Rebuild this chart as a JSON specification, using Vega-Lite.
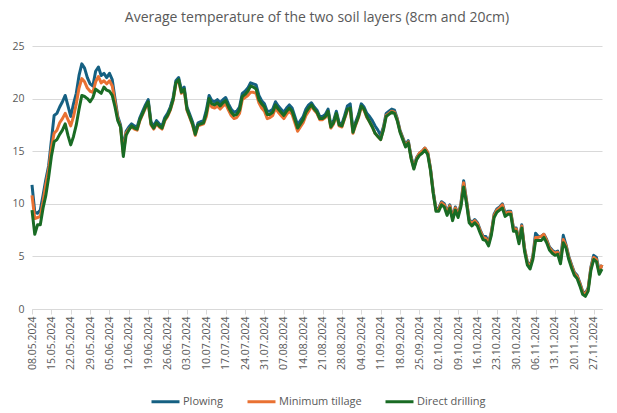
{
  "$schema": "https://vega.github.io/schema/vega-lite/v6.json",
  "autosize": "none",
  "width": 570,
  "height": 263,
  "padding": {"left": 32, "top": 46, "right": 15, "bottom": 104},
  "background": "white",
  "title": {
    "text": "Average temperature of the two soil layers (8cm and 20cm)",
    "font": "Open Sans",
    "fontSize": 14,
    "fontWeight": "normal",
    "color": "#595959",
    "offset": 16
  },
  "data": {
    "format": {"parse": {"date": "utc:'%Y-%m-%d'"}},
    "values": [
      {"date": "2024-05-08", "Plowing": 11.8, "Minimum tillage": 10.8, "Direct drilling": 9.4},
      {"date": "2024-05-09", "Plowing": 9.2, "Minimum tillage": 8.6, "Direct drilling": 7.1},
      {"date": "2024-05-10", "Plowing": 9.1, "Minimum tillage": 8.7, "Direct drilling": 8.0},
      {"date": "2024-05-11", "Plowing": 9.4, "Minimum tillage": 8.8, "Direct drilling": 8.0},
      {"date": "2024-05-12", "Plowing": 10.8, "Minimum tillage": 10.2, "Direct drilling": 9.6},
      {"date": "2024-05-13", "Plowing": 12.3, "Minimum tillage": 11.8, "Direct drilling": 10.8},
      {"date": "2024-05-14", "Plowing": 13.6, "Minimum tillage": 13.2, "Direct drilling": 12.5},
      {"date": "2024-05-15", "Plowing": 16.0, "Minimum tillage": 15.3, "Direct drilling": 14.5},
      {"date": "2024-05-16", "Plowing": 18.4, "Minimum tillage": 16.7, "Direct drilling": 15.9},
      {"date": "2024-05-17", "Plowing": 18.6, "Minimum tillage": 17.0, "Direct drilling": 16.1},
      {"date": "2024-05-18", "Plowing": 19.2, "Minimum tillage": 17.7, "Direct drilling": 16.6},
      {"date": "2024-05-19", "Plowing": 19.7, "Minimum tillage": 18.1, "Direct drilling": 17.0},
      {"date": "2024-05-20", "Plowing": 20.3, "Minimum tillage": 18.6, "Direct drilling": 17.6},
      {"date": "2024-05-21", "Plowing": 19.3, "Minimum tillage": 18.0, "Direct drilling": 16.5},
      {"date": "2024-05-22", "Plowing": 18.3, "Minimum tillage": 17.4, "Direct drilling": 15.6},
      {"date": "2024-05-23", "Plowing": 19.5, "Minimum tillage": 18.3, "Direct drilling": 16.4},
      {"date": "2024-05-24", "Plowing": 20.5, "Minimum tillage": 19.5, "Direct drilling": 17.5},
      {"date": "2024-05-25", "Plowing": 22.2, "Minimum tillage": 21.0, "Direct drilling": 19.0},
      {"date": "2024-05-26", "Plowing": 23.3, "Minimum tillage": 21.9, "Direct drilling": 20.3},
      {"date": "2024-05-27", "Plowing": 22.9, "Minimum tillage": 21.6, "Direct drilling": 20.2},
      {"date": "2024-05-28", "Plowing": 22.0, "Minimum tillage": 21.0, "Direct drilling": 20.0},
      {"date": "2024-05-29", "Plowing": 21.4, "Minimum tillage": 20.7, "Direct drilling": 19.7},
      {"date": "2024-05-30", "Plowing": 21.2, "Minimum tillage": 20.6, "Direct drilling": 20.1},
      {"date": "2024-05-31", "Plowing": 22.6, "Minimum tillage": 21.6, "Direct drilling": 20.9},
      {"date": "2024-06-01", "Plowing": 23.0, "Minimum tillage": 22.1, "Direct drilling": 20.7},
      {"date": "2024-06-02", "Plowing": 22.2, "Minimum tillage": 21.5, "Direct drilling": 20.5},
      {"date": "2024-06-03", "Plowing": 22.4, "Minimum tillage": 21.7, "Direct drilling": 21.1},
      {"date": "2024-06-04", "Plowing": 22.0, "Minimum tillage": 21.4, "Direct drilling": 20.8},
      {"date": "2024-06-05", "Plowing": 22.4, "Minimum tillage": 21.7, "Direct drilling": 20.7},
      {"date": "2024-06-06", "Plowing": 21.8, "Minimum tillage": 21.2, "Direct drilling": 20.3},
      {"date": "2024-06-07", "Plowing": 20.0, "Minimum tillage": 19.7, "Direct drilling": 19.2},
      {"date": "2024-06-08", "Plowing": 18.3, "Minimum tillage": 18.1, "Direct drilling": 17.9},
      {"date": "2024-06-09", "Plowing": 17.5, "Minimum tillage": 17.3, "Direct drilling": 17.3},
      {"date": "2024-06-10", "Plowing": 15.2, "Minimum tillage": 14.8, "Direct drilling": 14.5},
      {"date": "2024-06-11", "Plowing": 16.9, "Minimum tillage": 16.7, "Direct drilling": 16.5},
      {"date": "2024-06-12", "Plowing": 17.3, "Minimum tillage": 17.1, "Direct drilling": 17.0},
      {"date": "2024-06-13", "Plowing": 17.6, "Minimum tillage": 17.3, "Direct drilling": 17.4},
      {"date": "2024-06-14", "Plowing": 17.4, "Minimum tillage": 17.1, "Direct drilling": 17.2},
      {"date": "2024-06-15", "Plowing": 17.3, "Minimum tillage": 17.0, "Direct drilling": 17.1},
      {"date": "2024-06-16", "Plowing": 18.2, "Minimum tillage": 17.9, "Direct drilling": 18.0},
      {"date": "2024-06-17", "Plowing": 18.8, "Minimum tillage": 18.5, "Direct drilling": 18.6},
      {"date": "2024-06-18", "Plowing": 19.4, "Minimum tillage": 19.1, "Direct drilling": 19.2},
      {"date": "2024-06-19", "Plowing": 19.9, "Minimum tillage": 19.6, "Direct drilling": 19.7},
      {"date": "2024-06-20", "Plowing": 17.8, "Minimum tillage": 17.5, "Direct drilling": 17.6},
      {"date": "2024-06-21", "Plowing": 17.4, "Minimum tillage": 17.1, "Direct drilling": 17.2},
      {"date": "2024-06-22", "Plowing": 17.9, "Minimum tillage": 17.6, "Direct drilling": 17.7},
      {"date": "2024-06-23", "Plowing": 17.6, "Minimum tillage": 17.3, "Direct drilling": 17.4},
      {"date": "2024-06-24", "Plowing": 17.4, "Minimum tillage": 17.1, "Direct drilling": 17.2},
      {"date": "2024-06-25", "Plowing": 18.2, "Minimum tillage": 17.9, "Direct drilling": 18.0},
      {"date": "2024-06-26", "Plowing": 18.6, "Minimum tillage": 18.3, "Direct drilling": 18.4},
      {"date": "2024-06-27", "Plowing": 19.2, "Minimum tillage": 18.9, "Direct drilling": 19.0},
      {"date": "2024-06-28", "Plowing": 20.1, "Minimum tillage": 19.8, "Direct drilling": 19.9},
      {"date": "2024-06-29", "Plowing": 21.7, "Minimum tillage": 21.4, "Direct drilling": 21.5},
      {"date": "2024-06-30", "Plowing": 22.0, "Minimum tillage": 21.7, "Direct drilling": 21.8},
      {"date": "2024-07-01", "Plowing": 20.8, "Minimum tillage": 20.5, "Direct drilling": 20.6},
      {"date": "2024-07-02", "Plowing": 21.1, "Minimum tillage": 20.8, "Direct drilling": 20.9},
      {"date": "2024-07-03", "Plowing": 19.2, "Minimum tillage": 18.9, "Direct drilling": 19.0},
      {"date": "2024-07-04", "Plowing": 18.5, "Minimum tillage": 18.2, "Direct drilling": 18.3},
      {"date": "2024-07-05", "Plowing": 17.8, "Minimum tillage": 17.5, "Direct drilling": 17.6},
      {"date": "2024-07-06", "Plowing": 16.8, "Minimum tillage": 16.5, "Direct drilling": 16.6},
      {"date": "2024-07-07", "Plowing": 17.7, "Minimum tillage": 17.4, "Direct drilling": 17.5},
      {"date": "2024-07-08", "Plowing": 17.8, "Minimum tillage": 17.5, "Direct drilling": 17.6},
      {"date": "2024-07-09", "Plowing": 17.9, "Minimum tillage": 17.6, "Direct drilling": 17.7},
      {"date": "2024-07-10", "Plowing": 18.9, "Minimum tillage": 18.3, "Direct drilling": 18.6},
      {"date": "2024-07-11", "Plowing": 20.3, "Minimum tillage": 19.7, "Direct drilling": 20.0},
      {"date": "2024-07-12", "Plowing": 19.8, "Minimum tillage": 19.2, "Direct drilling": 19.5},
      {"date": "2024-07-13", "Plowing": 19.7, "Minimum tillage": 19.1, "Direct drilling": 19.4},
      {"date": "2024-07-14", "Plowing": 19.9, "Minimum tillage": 19.3, "Direct drilling": 19.6},
      {"date": "2024-07-15", "Plowing": 19.6, "Minimum tillage": 19.0, "Direct drilling": 19.3},
      {"date": "2024-07-16", "Plowing": 19.9, "Minimum tillage": 19.3, "Direct drilling": 19.6},
      {"date": "2024-07-17", "Plowing": 20.1, "Minimum tillage": 19.5, "Direct drilling": 19.8},
      {"date": "2024-07-18", "Plowing": 19.5, "Minimum tillage": 18.9, "Direct drilling": 19.2},
      {"date": "2024-07-19", "Plowing": 19.0, "Minimum tillage": 18.4, "Direct drilling": 18.7},
      {"date": "2024-07-20", "Plowing": 18.7, "Minimum tillage": 18.1, "Direct drilling": 18.4},
      {"date": "2024-07-21", "Plowing": 18.8, "Minimum tillage": 18.2, "Direct drilling": 18.5},
      {"date": "2024-07-22", "Plowing": 19.2, "Minimum tillage": 18.6, "Direct drilling": 18.9},
      {"date": "2024-07-23", "Plowing": 20.5, "Minimum tillage": 19.9, "Direct drilling": 20.2},
      {"date": "2024-07-24", "Plowing": 20.7, "Minimum tillage": 20.1, "Direct drilling": 20.4},
      {"date": "2024-07-25", "Plowing": 21.0, "Minimum tillage": 20.3, "Direct drilling": 20.7},
      {"date": "2024-07-26", "Plowing": 21.5, "Minimum tillage": 20.6, "Direct drilling": 21.2},
      {"date": "2024-07-27", "Plowing": 21.4, "Minimum tillage": 20.6, "Direct drilling": 21.1},
      {"date": "2024-07-28", "Plowing": 21.3, "Minimum tillage": 20.5, "Direct drilling": 20.9},
      {"date": "2024-07-29", "Plowing": 20.3, "Minimum tillage": 19.6, "Direct drilling": 19.9},
      {"date": "2024-07-30", "Plowing": 19.8, "Minimum tillage": 19.1, "Direct drilling": 19.5},
      {"date": "2024-07-31", "Plowing": 19.5, "Minimum tillage": 18.8, "Direct drilling": 19.2},
      {"date": "2024-08-01", "Plowing": 18.8, "Minimum tillage": 18.1, "Direct drilling": 18.5},
      {"date": "2024-08-02", "Plowing": 18.8, "Minimum tillage": 18.2, "Direct drilling": 18.5},
      {"date": "2024-08-03", "Plowing": 19.0, "Minimum tillage": 18.4, "Direct drilling": 18.7},
      {"date": "2024-08-04", "Plowing": 19.7, "Minimum tillage": 19.1, "Direct drilling": 19.4},
      {"date": "2024-08-05", "Plowing": 19.3, "Minimum tillage": 18.7, "Direct drilling": 19.0},
      {"date": "2024-08-06", "Plowing": 19.0, "Minimum tillage": 18.4, "Direct drilling": 18.7},
      {"date": "2024-08-07", "Plowing": 18.7, "Minimum tillage": 18.1, "Direct drilling": 18.4},
      {"date": "2024-08-08", "Plowing": 19.1, "Minimum tillage": 18.5, "Direct drilling": 18.8},
      {"date": "2024-08-09", "Plowing": 19.4, "Minimum tillage": 18.8, "Direct drilling": 19.1},
      {"date": "2024-08-10", "Plowing": 19.1, "Minimum tillage": 18.5, "Direct drilling": 18.8},
      {"date": "2024-08-11", "Plowing": 18.3, "Minimum tillage": 17.7, "Direct drilling": 18.0},
      {"date": "2024-08-12", "Plowing": 17.5, "Minimum tillage": 16.9, "Direct drilling": 17.2},
      {"date": "2024-08-13", "Plowing": 17.9, "Minimum tillage": 17.3, "Direct drilling": 17.6},
      {"date": "2024-08-14", "Plowing": 18.3, "Minimum tillage": 17.7, "Direct drilling": 18.0},
      {"date": "2024-08-15", "Plowing": 19.0, "Minimum tillage": 18.4, "Direct drilling": 18.7},
      {"date": "2024-08-16", "Plowing": 19.4, "Minimum tillage": 18.8, "Direct drilling": 19.1},
      {"date": "2024-08-17", "Plowing": 19.6, "Minimum tillage": 19.3, "Direct drilling": 19.4},
      {"date": "2024-08-18", "Plowing": 19.2, "Minimum tillage": 18.9, "Direct drilling": 19.0},
      {"date": "2024-08-19", "Plowing": 18.9, "Minimum tillage": 18.6, "Direct drilling": 18.7},
      {"date": "2024-08-20", "Plowing": 18.3, "Minimum tillage": 18.0, "Direct drilling": 18.1},
      {"date": "2024-08-21", "Plowing": 18.3, "Minimum tillage": 18.0, "Direct drilling": 18.1},
      {"date": "2024-08-22", "Plowing": 18.5, "Minimum tillage": 18.2, "Direct drilling": 18.3},
      {"date": "2024-08-23", "Plowing": 19.0, "Minimum tillage": 18.7, "Direct drilling": 18.8},
      {"date": "2024-08-24", "Plowing": 17.5, "Minimum tillage": 17.2, "Direct drilling": 17.3},
      {"date": "2024-08-25", "Plowing": 17.9, "Minimum tillage": 17.6, "Direct drilling": 17.7},
      {"date": "2024-08-26", "Plowing": 18.8, "Minimum tillage": 18.5, "Direct drilling": 18.6},
      {"date": "2024-08-27", "Plowing": 17.7, "Minimum tillage": 17.4, "Direct drilling": 17.5},
      {"date": "2024-08-28", "Plowing": 17.6, "Minimum tillage": 17.3, "Direct drilling": 17.4},
      {"date": "2024-08-29", "Plowing": 18.4, "Minimum tillage": 18.1, "Direct drilling": 18.2},
      {"date": "2024-08-30", "Plowing": 19.3, "Minimum tillage": 18.9, "Direct drilling": 19.0},
      {"date": "2024-08-31", "Plowing": 19.5, "Minimum tillage": 19.0, "Direct drilling": 19.1},
      {"date": "2024-09-01", "Plowing": 17.0, "Minimum tillage": 16.7, "Direct drilling": 16.8},
      {"date": "2024-09-02", "Plowing": 17.8, "Minimum tillage": 17.5, "Direct drilling": 17.6},
      {"date": "2024-09-03", "Plowing": 18.5, "Minimum tillage": 18.2, "Direct drilling": 18.3},
      {"date": "2024-09-04", "Plowing": 19.5, "Minimum tillage": 19.2, "Direct drilling": 19.3},
      {"date": "2024-09-05", "Plowing": 19.2, "Minimum tillage": 18.9, "Direct drilling": 19.0},
      {"date": "2024-09-06", "Plowing": 18.6, "Minimum tillage": 18.2, "Direct drilling": 18.3},
      {"date": "2024-09-07", "Plowing": 18.3, "Minimum tillage": 17.8, "Direct drilling": 17.8},
      {"date": "2024-09-08", "Plowing": 17.9, "Minimum tillage": 17.3, "Direct drilling": 17.3},
      {"date": "2024-09-09", "Plowing": 17.4, "Minimum tillage": 16.7, "Direct drilling": 16.7},
      {"date": "2024-09-10", "Plowing": 17.0, "Minimum tillage": 16.4, "Direct drilling": 16.4},
      {"date": "2024-09-11", "Plowing": 16.5, "Minimum tillage": 16.1, "Direct drilling": 16.1},
      {"date": "2024-09-12", "Plowing": 17.3, "Minimum tillage": 17.1, "Direct drilling": 17.0},
      {"date": "2024-09-13", "Plowing": 18.6, "Minimum tillage": 18.4, "Direct drilling": 18.3},
      {"date": "2024-09-14", "Plowing": 18.8, "Minimum tillage": 18.6, "Direct drilling": 18.5},
      {"date": "2024-09-15", "Plowing": 19.0, "Minimum tillage": 18.8, "Direct drilling": 18.7},
      {"date": "2024-09-16", "Plowing": 18.9, "Minimum tillage": 18.7, "Direct drilling": 18.6},
      {"date": "2024-09-17", "Plowing": 18.1, "Minimum tillage": 18.0, "Direct drilling": 17.9},
      {"date": "2024-09-18", "Plowing": 17.0, "Minimum tillage": 16.9, "Direct drilling": 16.8},
      {"date": "2024-09-19", "Plowing": 16.3, "Minimum tillage": 16.2, "Direct drilling": 16.1},
      {"date": "2024-09-20", "Plowing": 15.6, "Minimum tillage": 15.5, "Direct drilling": 15.4},
      {"date": "2024-09-21", "Plowing": 16.0, "Minimum tillage": 15.9, "Direct drilling": 15.8},
      {"date": "2024-09-22", "Plowing": 14.5, "Minimum tillage": 14.4, "Direct drilling": 14.3},
      {"date": "2024-09-23", "Plowing": 13.5, "Minimum tillage": 13.4, "Direct drilling": 13.3},
      {"date": "2024-09-24", "Plowing": 14.4, "Minimum tillage": 14.3, "Direct drilling": 14.2},
      {"date": "2024-09-25", "Plowing": 14.8, "Minimum tillage": 14.8, "Direct drilling": 14.6},
      {"date": "2024-09-26", "Plowing": 15.0, "Minimum tillage": 15.0, "Direct drilling": 14.8},
      {"date": "2024-09-27", "Plowing": 15.3, "Minimum tillage": 15.3, "Direct drilling": 15.1},
      {"date": "2024-09-28", "Plowing": 14.9, "Minimum tillage": 14.9, "Direct drilling": 14.7},
      {"date": "2024-09-29", "Plowing": 13.4, "Minimum tillage": 13.3, "Direct drilling": 13.2},
      {"date": "2024-09-30", "Plowing": 11.2, "Minimum tillage": 11.1, "Direct drilling": 11.0},
      {"date": "2024-10-01", "Plowing": 9.5, "Minimum tillage": 9.4, "Direct drilling": 9.3},
      {"date": "2024-10-02", "Plowing": 9.6, "Minimum tillage": 9.5, "Direct drilling": 9.3},
      {"date": "2024-10-03", "Plowing": 10.2, "Minimum tillage": 10.1, "Direct drilling": 9.9},
      {"date": "2024-10-04", "Plowing": 10.0, "Minimum tillage": 9.9, "Direct drilling": 9.7},
      {"date": "2024-10-05", "Plowing": 9.2, "Minimum tillage": 9.1, "Direct drilling": 8.9},
      {"date": "2024-10-06", "Plowing": 9.9, "Minimum tillage": 9.8, "Direct drilling": 9.6},
      {"date": "2024-10-07", "Plowing": 8.7, "Minimum tillage": 8.6, "Direct drilling": 8.4},
      {"date": "2024-10-08", "Plowing": 9.7, "Minimum tillage": 9.6, "Direct drilling": 9.4},
      {"date": "2024-10-09", "Plowing": 9.0, "Minimum tillage": 8.9, "Direct drilling": 8.7},
      {"date": "2024-10-10", "Plowing": 10.0, "Minimum tillage": 9.9, "Direct drilling": 9.7},
      {"date": "2024-10-11", "Plowing": 12.2, "Minimum tillage": 12.0, "Direct drilling": 11.6},
      {"date": "2024-10-12", "Plowing": 10.4, "Minimum tillage": 10.3, "Direct drilling": 10.1},
      {"date": "2024-10-13", "Plowing": 8.5, "Minimum tillage": 8.4, "Direct drilling": 8.2},
      {"date": "2024-10-14", "Plowing": 8.2, "Minimum tillage": 8.1, "Direct drilling": 7.9},
      {"date": "2024-10-15", "Plowing": 8.5, "Minimum tillage": 8.4, "Direct drilling": 8.2},
      {"date": "2024-10-16", "Plowing": 8.2, "Minimum tillage": 8.1, "Direct drilling": 7.9},
      {"date": "2024-10-17", "Plowing": 7.5, "Minimum tillage": 7.4, "Direct drilling": 7.2},
      {"date": "2024-10-18", "Plowing": 6.9, "Minimum tillage": 6.8, "Direct drilling": 6.6},
      {"date": "2024-10-19", "Plowing": 6.9, "Minimum tillage": 6.7, "Direct drilling": 6.5},
      {"date": "2024-10-20", "Plowing": 6.3, "Minimum tillage": 6.2, "Direct drilling": 6.0},
      {"date": "2024-10-21", "Plowing": 7.3, "Minimum tillage": 7.2, "Direct drilling": 7.0},
      {"date": "2024-10-22", "Plowing": 9.0, "Minimum tillage": 8.9, "Direct drilling": 8.7},
      {"date": "2024-10-23", "Plowing": 9.5, "Minimum tillage": 9.4, "Direct drilling": 9.2},
      {"date": "2024-10-24", "Plowing": 9.7, "Minimum tillage": 9.6, "Direct drilling": 9.4},
      {"date": "2024-10-25", "Plowing": 10.0, "Minimum tillage": 9.9, "Direct drilling": 9.6},
      {"date": "2024-10-26", "Plowing": 9.1, "Minimum tillage": 9.0, "Direct drilling": 8.8},
      {"date": "2024-10-27", "Plowing": 9.3, "Minimum tillage": 9.2, "Direct drilling": 9.0},
      {"date": "2024-10-28", "Plowing": 9.3, "Minimum tillage": 9.2, "Direct drilling": 9.0},
      {"date": "2024-10-29", "Plowing": 7.7, "Minimum tillage": 7.6, "Direct drilling": 7.4},
      {"date": "2024-10-30", "Plowing": 7.7, "Minimum tillage": 7.6, "Direct drilling": 7.4},
      {"date": "2024-10-31", "Plowing": 6.5, "Minimum tillage": 6.4, "Direct drilling": 6.2},
      {"date": "2024-11-01", "Plowing": 8.0, "Minimum tillage": 7.9, "Direct drilling": 7.7},
      {"date": "2024-11-02", "Plowing": 5.8, "Minimum tillage": 5.7, "Direct drilling": 5.5},
      {"date": "2024-11-03", "Plowing": 4.5, "Minimum tillage": 4.4, "Direct drilling": 4.2},
      {"date": "2024-11-04", "Plowing": 4.1, "Minimum tillage": 4.0, "Direct drilling": 3.8},
      {"date": "2024-11-05", "Plowing": 5.0, "Minimum tillage": 4.9, "Direct drilling": 4.7},
      {"date": "2024-11-06", "Plowing": 7.2, "Minimum tillage": 6.8, "Direct drilling": 6.5},
      {"date": "2024-11-07", "Plowing": 6.9, "Minimum tillage": 6.8, "Direct drilling": 6.5},
      {"date": "2024-11-08", "Plowing": 6.9, "Minimum tillage": 6.9, "Direct drilling": 6.5},
      {"date": "2024-11-09", "Plowing": 7.1, "Minimum tillage": 7.1, "Direct drilling": 6.8},
      {"date": "2024-11-10", "Plowing": 6.6, "Minimum tillage": 6.5, "Direct drilling": 6.3},
      {"date": "2024-11-11", "Plowing": 5.9, "Minimum tillage": 5.8, "Direct drilling": 5.6},
      {"date": "2024-11-12", "Plowing": 5.6, "Minimum tillage": 5.5, "Direct drilling": 5.3},
      {"date": "2024-11-13", "Plowing": 5.4, "Minimum tillage": 5.3, "Direct drilling": 5.1},
      {"date": "2024-11-14", "Plowing": 5.5, "Minimum tillage": 5.4, "Direct drilling": 5.2},
      {"date": "2024-11-15", "Plowing": 4.6, "Minimum tillage": 4.5, "Direct drilling": 4.3},
      {"date": "2024-11-16", "Plowing": 7.0, "Minimum tillage": 6.6, "Direct drilling": 6.3},
      {"date": "2024-11-17", "Plowing": 6.1, "Minimum tillage": 6.0, "Direct drilling": 5.8},
      {"date": "2024-11-18", "Plowing": 5.0, "Minimum tillage": 4.9, "Direct drilling": 4.7},
      {"date": "2024-11-19", "Plowing": 4.2, "Minimum tillage": 4.1, "Direct drilling": 3.9},
      {"date": "2024-11-20", "Plowing": 3.5, "Minimum tillage": 3.4, "Direct drilling": 3.2},
      {"date": "2024-11-21", "Plowing": 3.2, "Minimum tillage": 3.1, "Direct drilling": 2.9},
      {"date": "2024-11-22", "Plowing": 2.5, "Minimum tillage": 2.4, "Direct drilling": 2.2},
      {"date": "2024-11-23", "Plowing": 1.7, "Minimum tillage": 1.6, "Direct drilling": 1.4},
      {"date": "2024-11-24", "Plowing": 1.5, "Minimum tillage": 1.4, "Direct drilling": 1.2},
      {"date": "2024-11-25", "Plowing": 2.0, "Minimum tillage": 1.9, "Direct drilling": 1.7},
      {"date": "2024-11-26", "Plowing": 4.0, "Minimum tillage": 3.9, "Direct drilling": 3.7},
      {"date": "2024-11-27", "Plowing": 5.1, "Minimum tillage": 4.9, "Direct drilling": 4.7},
      {"date": "2024-11-28", "Plowing": 4.9, "Minimum tillage": 4.7, "Direct drilling": 4.5},
      {"date": "2024-11-29", "Plowing": 3.6, "Minimum tillage": 3.5, "Direct drilling": 3.3},
      {"date": "2024-11-30", "Plowing": 4.2, "Minimum tillage": 4.2, "Direct drilling": 3.8}
    ]
  },
  "transform": [
    {"fold": ["Plowing", "Minimum tillage", "Direct drilling"], "as": ["series", "temp"]}
  ],
  "encoding": {
    "x": {
      "field": "date",
      "type": "temporal",
      "title": null,
      "scale": {
        "type": "utc",
        "domain": [
          {"year": 2024, "month": 5, "date": 8, "utc": true},
          {"year": 2024, "month": 11, "date": 30, "utc": true}
        ]
      },
      "axis": {
        "format": "%d.%m.%Y",
        "labelAngle": -90,
        "grid": false,
        "domainColor": "#d9d9d9",
        "tickColor": "#d9d9d9",
        "tickSize": 5,
        "labelPadding": 2,
        "labelColor": "#595959",
        "labelFontSize": 10.5,
        "labelOverlap": false,
        "labelFlush": false,
        "values": [
          {"year": 2024, "month": 5, "date": 8, "utc": true},
          {"year": 2024, "month": 5, "date": 15, "utc": true},
          {"year": 2024, "month": 5, "date": 22, "utc": true},
          {"year": 2024, "month": 5, "date": 29, "utc": true},
          {"year": 2024, "month": 6, "date": 5, "utc": true},
          {"year": 2024, "month": 6, "date": 12, "utc": true},
          {"year": 2024, "month": 6, "date": 19, "utc": true},
          {"year": 2024, "month": 6, "date": 26, "utc": true},
          {"year": 2024, "month": 7, "date": 3, "utc": true},
          {"year": 2024, "month": 7, "date": 10, "utc": true},
          {"year": 2024, "month": 7, "date": 17, "utc": true},
          {"year": 2024, "month": 7, "date": 24, "utc": true},
          {"year": 2024, "month": 7, "date": 31, "utc": true},
          {"year": 2024, "month": 8, "date": 7, "utc": true},
          {"year": 2024, "month": 8, "date": 14, "utc": true},
          {"year": 2024, "month": 8, "date": 21, "utc": true},
          {"year": 2024, "month": 8, "date": 28, "utc": true},
          {"year": 2024, "month": 9, "date": 4, "utc": true},
          {"year": 2024, "month": 9, "date": 11, "utc": true},
          {"year": 2024, "month": 9, "date": 18, "utc": true},
          {"year": 2024, "month": 9, "date": 25, "utc": true},
          {"year": 2024, "month": 10, "date": 2, "utc": true},
          {"year": 2024, "month": 10, "date": 9, "utc": true},
          {"year": 2024, "month": 10, "date": 16, "utc": true},
          {"year": 2024, "month": 10, "date": 23, "utc": true},
          {"year": 2024, "month": 10, "date": 30, "utc": true},
          {"year": 2024, "month": 11, "date": 6, "utc": true},
          {"year": 2024, "month": 11, "date": 13, "utc": true},
          {"year": 2024, "month": 11, "date": 20, "utc": true},
          {"year": 2024, "month": 11, "date": 27, "utc": true}
        ]
      }
    },
    "y": {
      "field": "temp",
      "type": "quantitative",
      "title": null,
      "scale": {"domain": [0, 25], "nice": false},
      "axis": {
        "values": [0, 5, 10, 15, 20, 25],
        "domain": false,
        "ticks": false,
        "gridColor": "#d9d9d9",
        "labelColor": "#595959",
        "labelFontSize": 10.5,
        "labelPadding": 8
      }
    },
    "color": {
      "field": "series",
      "type": "nominal",
      "sort": ["Plowing", "Minimum tillage", "Direct drilling"],
      "scale": {
        "domain": ["Plowing", "Minimum tillage", "Direct drilling"],
        "range": ["#156082", "#e97132", "#196b24"]
      },
      "legend": {
        "orient": "none",
        "legendX": 118,
        "legendY": 340,
        "direction": "horizontal",
        "title": null,
        "symbolType": "stroke",
        "symbolSize": 784,
        "symbolStrokeWidth": 3,
        "labelFontSize": 11,
        "labelColor": "#595959",
        "labelOffset": 2,
        "columnPadding": 17
      }
    }
  },
  "layer": [
    {
      "transform": [{"filter": "datum.series == 'Plowing'"}],
      "mark": {"type": "line", "strokeWidth": 3, "strokeJoin": "round"}
    },
    {
      "transform": [{"filter": "datum.series == 'Minimum tillage'"}],
      "mark": {"type": "line", "strokeWidth": 3, "strokeJoin": "round"}
    },
    {
      "transform": [{"filter": "datum.series == 'Direct drilling'"}],
      "mark": {"type": "line", "strokeWidth": 3, "strokeJoin": "round"}
    }
  ],
  "config": {
    "font": "Open Sans",
    "view": {"stroke": null}
  }
}
